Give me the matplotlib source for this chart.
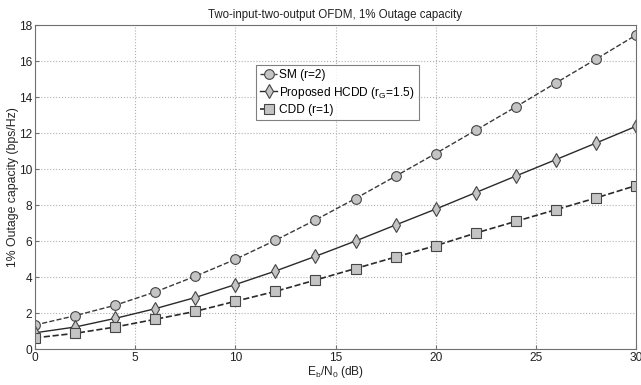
import matplotlib
matplotlib.use("Agg")
import matplotlib.pyplot as plt

plt.rcParams['font.family'] = ['Liberation Sans', 'DejaVu Sans']
plt.rcParams['mathtext.fontset'] = 'custom'
plt.rcParams['mathtext.rm'] = 'Liberation Sans'
plt.rcParams['mathtext.it'] = 'Liberation Sans'

# Eb/N0 (dB)
snr_db = [0, 2, 4, 6, 8, 10, 12, 14, 16, 18, 20, 22, 24, 26, 28, 30]

# 1% outage capacity (bps/Hz)
cap_sm = [1.33, 1.85, 2.43, 3.17, 4.04, 4.98, 6.04, 7.17, 8.36, 9.6,
          10.86, 12.15, 13.45, 14.78, 16.1, 17.44]
cap_hcdd = [0.9, 1.22, 1.7, 2.24, 2.86, 3.58, 4.33, 5.15, 6.0, 6.89,
            7.77, 8.69, 9.61, 10.52, 11.44, 12.37]
cap_cdd = [0.62, 0.87, 1.22, 1.65, 2.09, 2.65, 3.2, 3.83, 4.47, 5.11,
           5.74, 6.44, 7.09, 7.74, 8.39, 9.08]

fig = plt.figure(figsize=(6.41, 3.85), dpi=100)
ax = fig.add_axes([35 / 641, 1 - 349 / 385, 601 / 641, 324 / 385])

line_col = '#2a2a2a'
face_col = '#c4c4c4'
edge_col = '#454545'

ax.plot(snr_db, cap_sm, linestyle='--', color='#3a3a3a', lw=1.0, marker='o',
        ms=7, mfc=face_col, mec=edge_col, mew=0.8, label='SM (r=2)')
ax.plot(snr_db, cap_hcdd, linestyle='-', color=line_col, lw=1.0, marker='d',
        ms=7.5, mfc=face_col, mec=edge_col, mew=0.8,
        label='Proposed HCDD (r$_\\mathrm{G}$=1.5)')
ax.plot(snr_db, cap_cdd, linestyle='--', color=line_col, lw=1.2, marker='s',
        ms=6.5, mfc=face_col, mec=edge_col, mew=0.8, label='CDD (r=1)')

ax.set_xlim(0, 30)
ax.set_ylim(0, 18)
ax.set_xticks([0, 5, 10, 15, 20, 25, 30])
ax.set_yticks(range(0, 19, 2))
ax.grid(True, linestyle=':', color='#b0b0b0', lw=0.8)
for s in ax.spines.values():
    s.set_color('#707070')
ax.tick_params(labelsize=8.6, colors='#707070', labelcolor='#222222',
               direction='in', length=3, pad=2)

ax.set_title('Two-input-two-output OFDM, 1% Outage capacity', fontsize=8.3,
             color='#222222', pad=5)
ax.set_xlabel('E$_\\mathrm{b}$/N$_\\mathrm{0}$ (dB)', fontsize=8.6,
              color='#222222', labelpad=0)
ax.set_ylabel('1% Outage capacity (bps/Hz)', fontsize=8.8, color='#222222',
              labelpad=0)

leg = ax.legend(loc='upper left', bbox_to_anchor=(0.368, 0.877), fontsize=8.6,
                frameon=True, fancybox=False, handlelength=1.4,
                handletextpad=0.2, borderpad=0.35, labelspacing=0.3,
                borderaxespad=0)
leg.get_frame().set_edgecolor('#606060')
leg.get_frame().set_linewidth(0.8)

fig.savefig('out.png', dpi=100)
